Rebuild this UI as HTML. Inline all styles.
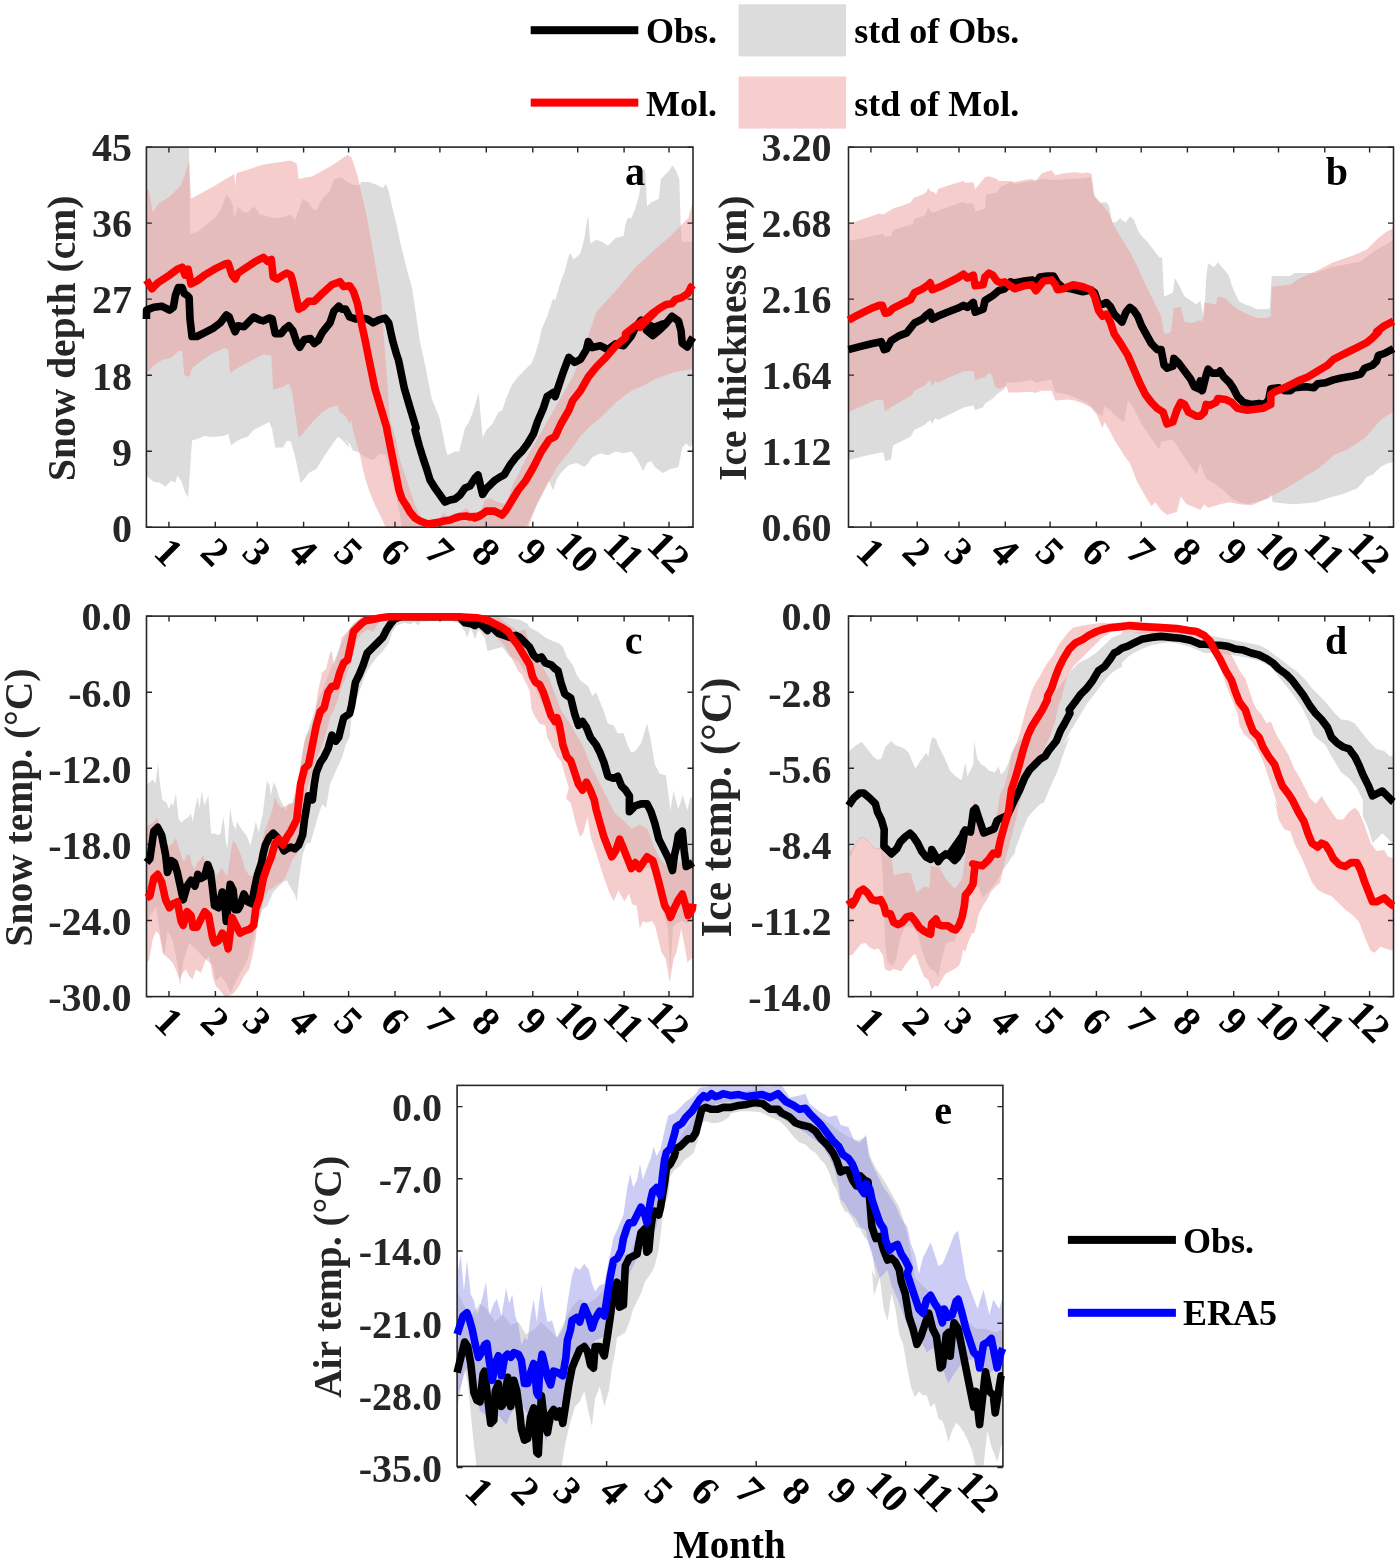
<!DOCTYPE html><html><head><meta charset="utf-8"><style>html,body{margin:0;padding:0;background:#fff;width:1400px;height:1564px;overflow:hidden}svg{display:block;will-change:transform}.t{font-family:"Liberation Serif",serif;font-weight:bold;font-size:40px;fill:#262626}.lg{font-family:"Liberation Serif",serif;font-weight:bold;font-size:36px;fill:#000}.pl{font-family:"Liberation Serif",serif;font-weight:bold;font-size:40px;fill:#000}</style></head><body>
<svg width="1400" height="1564" viewBox="0 0 1400 1564">
<rect x="530.7" y="26.2" width="107.6" height="8" fill="#000"/>
<rect x="530.7" y="98.6" width="107.6" height="8" fill="#ff0000"/>
<rect x="738.6" y="4.3" width="107.5" height="52.1" fill="#dcdcdc"/>
<rect x="738.6" y="76.5" width="107.5" height="52.1" fill="#f7cdcd"/>
<text x="646" y="43.1" class="lg">Obs.</text>
<text x="646" y="116.3" class="lg">Mol.</text>
<text x="854.2" y="43.1" class="lg">std of Obs.</text>
<text x="854.2" y="116.3" class="lg">std of Mol.</text>
<defs><clipPath id="clipa"><rect x="146.4" y="147.1" width="546.6" height="380.1"/></clipPath><clipPath id="clipb"><rect x="848.5" y="147.1" width="545.0" height="380.0"/></clipPath><clipPath id="clipc"><rect x="146.5" y="616.1" width="546.5" height="380.5"/></clipPath><clipPath id="clipd"><rect x="848.5" y="616.1" width="545.0" height="380.5"/></clipPath><clipPath id="clipe"><rect x="457.1" y="1085.4" width="545.8" height="381.0"/></clipPath><clipPath id="lclipa"><rect x="145.9" y="135.1" width="547.6" height="404.1"/></clipPath><clipPath id="lclipb"><rect x="848.0" y="135.1" width="546.0" height="404.0"/></clipPath><clipPath id="lclipc"><rect x="146.0" y="604.1" width="547.5" height="404.5"/></clipPath><clipPath id="lclipd"><rect x="848.0" y="604.1" width="546.0" height="404.5"/></clipPath><clipPath id="lclipe"><rect x="456.6" y="1073.4" width="546.8" height="405.0"/></clipPath></defs>
<polygon points="146,140 189,140 190,234 196.9,232 204.7,226.1 214.5,218.3 220.4,210.5 226.3,194.8 230.2,198.7 233.1,206.5 234.1,218.3 238,206.5 243.9,212.4 247.8,212.4 253.7,206.5 257.6,210.5 259.5,214.4 267.4,216.3 273.2,218.3 283,217.3 290.8,214.4 294.8,220.3 300.6,204.6 302.6,198.7 308.5,202.6 312.4,208.5 316.3,210.5 322.2,198.7 330,190.9 333.9,179.1 341.7,177.2 345.6,181.1 349.6,183.1 353.5,185 359.3,185 361.3,182.1 369.1,182.1 377,185 382.8,188 385.8,184 388.7,190.9 392.6,208.5 396.5,224.2 400.5,243.7 406.3,267.2 412.2,288.8 420,341.7 425.9,369.1 431.7,398.5 439.6,418.1 445.4,447.4 447.4,455.3 455.2,451.4 459.1,451.4 465,427.9 468.9,422 472.8,412.2 478.7,392.6 482.6,437.7 486.5,429.8 492.4,424 498.3,412.2 502.2,410.3 506.1,398.5 512,384.8 517.9,377 525.7,369.1 531.6,363.3 535.5,353.5 539.4,339.8 541.4,330 547.2,316.2 553.1,298.5 555.1,300.5 560.9,280.9 564.8,271.1 568.8,255.5 570.7,253.5 573.7,259.4 580.5,253.5 584.4,237.9 587.4,218.3 588.3,216.3 590.3,243.7 596.2,239.8 602,241.8 607.9,245.7 615.7,237.9 623.6,235.9 625.5,224.2 627.5,218.3 631.4,218.3 635.3,208.5 639.2,194.8 643.1,169.4 645.1,169.4 647.1,206.5 651,202.6 658.8,198.7 660.8,179.1 662.7,177.2 668.6,171.3 672.5,165.4 676.4,171.3 679.3,179.1 680.7,224.2 681.7,241.8 694,241.8 694,441.6 690.1,447.4 686.2,443.5 682.3,447.4 678.4,467 670.5,469 662.7,472.9 654.9,467 651,461.1 647.1,463.1 643.1,470.9 637.3,459.2 631.4,451.4 623.6,453.3 615.7,451.4 607.9,455.3 600.1,453.3 592.2,457.2 588.3,463.1 584.4,467 576.6,463.1 568.8,465.1 560.9,472.9 557,478.8 553.1,490.5 549.2,480.7 547.2,484.6 541.4,496.4 533.5,512 525.7,527.7 402,528 400,515 397,500 386,455 380,454 373,460 365,457 358,452 354,451 350,448 347,441 344,441 340,438 353.5,451.4 349.6,443.5 341.7,439.6 337.8,436.7 330,447.4 322.2,459.2 316.3,469 308.5,472.9 304.5,478.8 300.6,482.7 294.8,455.3 290.8,441.6 286.9,440.6 283,447.4 275.2,447.4 272.2,429.8 269.3,422 261.5,425.9 253.7,429.8 247.8,436.7 241.9,438.6 236,441.6 231.1,445.5 228.2,433.7 224.3,435.7 216.5,436.7 208.6,436.7 204.7,435.7 198.8,438.6 192,440.6 190,470.9 188.1,497.4 185.1,492.5 181.2,480.7 177.3,475.8 175.4,482.7 171.4,480.7 165.6,486.6 159.7,482.7 153.8,481.7 149.9,478.8 146,474.8" fill="#dcdcdc" clip-path="url(#clipa)"/>
<polygon points="146,188.9 148.9,189.9 152.9,212.4 157.7,204.6 169.5,196.8 181.2,185 189.1,161.5 191,198.7 212.5,187 232.1,175.2 234.5,174.3 235.1,187 236.4,173.3 263.4,164.5 290.8,160.6 296.7,163.5 298.7,179.1 312.4,176.2 331.9,165.4 347.6,154.7 351.5,157.6 357.4,175.2 367.2,218.3 380.9,296.6 390,420 396,440 400,460 405,475 410,490 415,505 420,515 423,520 430,520 440,518 444,513 448,518 460,513 466,508 470,512 480,513 484.6,500.3 490.5,498.3 498.3,502.2 506.1,504.2 512,486.6 517.9,474.8 525.7,459.2 533.5,445.5 541.4,431.8 549.2,418.1 557,404.4 564.8,390.7 572.7,377 580.5,357.4 586.4,341.7 590.3,330 596.2,312.2 615.7,290.7 635.3,267.2 654.9,249.6 670.5,235.9 680.3,226.1 688.2,218.3 692.1,204.6 694,196.8 694,369.1 686.2,370.1 674.5,372.1 666.6,375 654.9,378.9 645.1,384.8 631.4,390.7 623.6,396.5 615.7,402.4 607.9,410.3 600.1,418.1 590.3,425.9 580.5,435.7 572.7,447.4 564.8,457.2 557,467 547.2,484.6 537.4,502.2 529.6,523.8 527.7,531.6 386,528 380,515 374,503 369,490 365,478 362,465 360,455 357,445 353,430 351,420 349.6,424 345.6,416.1 339.8,412.2 337.8,405.4 330,407.3 322.2,412.2 312.4,422 302.6,433.7 298.7,437.7 291.8,390.7 288.9,383.8 283,386.8 273.2,389.7 271.3,355.4 263.4,354.5 247.8,362.3 236,369.1 230.2,373.1 228.2,349.6 224.3,348 212.5,353.5 200.8,361.3 192,368.2 189.1,377 184.2,375 182.2,351.5 179.3,350.6 171.4,357.4 161.7,360.3 153.8,365.2 148.9,371.1 146,372.1" fill="#ee9c9c" fill-opacity="0.51" clip-path="url(#clipa)"/>
<polygon points="848,240.8 859.7,238.8 871.5,235.9 883.2,234 885.2,236.9 891.1,235.9 893,230 902.8,227.1 912.6,224.2 914.5,219.3 924.3,215.4 926.3,212.4 928.3,206.5 930.2,211.4 934.1,212.4 938,210.5 949.8,206.5 963.5,201.7 965.4,203.6 973.3,203.6 975.2,211.4 985,208.5 986,194.8 996.8,192.8 1000.7,187 1010.5,182.1 1014.4,184 1032,181.1 1041.8,179.1 1055.5,180.1 1082.9,178.2 1090.7,177.2 1093.6,194.8 1100.5,202.6 1106.4,202.2 1109.3,206.5 1112.2,222.2 1116.2,222.2 1120.1,218.3 1122,220.3 1125.9,222.2 1129.8,216.3 1133.7,219.3 1137.7,230 1141.6,235.9 1147.4,241.8 1153.3,249.6 1159.2,257.4 1162.1,257.4 1164.1,296.6 1169,294.6 1172.9,292.7 1174.8,278 1178.8,284.8 1184.6,296.6 1190.5,300.5 1196.4,304.4 1200.3,300.5 1203.2,316.2 1204.2,316.2 1206.2,277 1208.1,263.3 1214,267.2 1217.9,262.3 1223.8,269.2 1228.7,275.1 1231.6,284.8 1235.5,294.6 1239.4,301.5 1245.3,304.4 1251.2,306.4 1257.1,309.3 1266.8,309.3 1269.8,308.3 1271.7,276 1278.6,276 1290.3,276 1294.2,273.1 1315.8,273.1 1331.4,267.2 1360.8,261.4 1368.6,255.5 1376.5,249.6 1384.3,245.7 1390.2,241.8 1396,238.8 1396,462.1 1388.2,463.1 1380.4,467 1376.5,470.9 1372.5,474.8 1366.7,476.8 1362.8,482.7 1356.9,488.5 1341.2,494.4 1327.5,498.3 1315.8,502.2 1306,503.2 1292.3,504.2 1282.5,503.2 1272.7,502.2 1270.8,492.5 1268.8,498.3 1262.9,500.3 1255.1,502.2 1247.3,504.2 1239.4,502.2 1231.6,498.3 1223.8,490.5 1216,484.6 1206.2,478.8 1200.3,463.1 1196.4,474.8 1188.5,463.1 1180.7,451.4 1172.9,439.6 1161.1,441.6 1159.2,449.4 1149.4,435.7 1141.6,424 1133.7,408.3 1127.9,400.5 1124,422 1118.1,418.1 1110.3,410.3 1104.4,406.3 1102.5,416.1 1098.5,414.2 1092.7,408.3 1086.8,402.4 1075.1,397.5 1067.2,394.6 1055.5,392.6 1051.6,379.9 1041.8,380.9 1035.9,382.8 1032,379.9 1018.3,381.9 1006.5,382.8 1004.6,388.7 996.8,394.6 992.8,398.5 985,403.4 983.1,407.3 975.2,410.3 973.3,405.4 964.5,407.3 949.8,414.2 938,420 935.1,418.1 932.2,424 930.2,420 924.3,424.9 914.5,429.8 910.6,436.7 902.8,440.6 893,445.5 891.1,459.2 885.2,461.1 883.2,452.3 877.4,453.3 867.6,455.3 859.7,457.2 848,460.2" fill="#dcdcdc" clip-path="url(#clipb)"/>
<polygon points="848,224.2 859.7,220.3 871.5,216.3 879.3,213.4 883.2,214.4 885.2,213.4 893,208.5 902.8,205.6 910.6,202.6 913.6,197.7 922.4,194.8 926.3,191.9 928.3,188 930.2,190.9 934.1,191.9 936.1,194.8 938,188.9 949.8,185 963.5,181.1 965.4,183.1 973.3,182.1 975.2,188.9 985,177.2 988.9,176.2 996.8,179.1 998.7,181.1 1010.5,181.1 1014.4,182.1 1024.2,180.1 1032,179.1 1035.9,181.1 1041.8,173.3 1051.6,170.3 1055.5,175.2 1063.3,173.3 1075.1,172.3 1082.9,173.3 1086.8,172.3 1091.7,174.3 1094.6,196.8 1098.5,201.7 1102.5,204.6 1108.3,212.4 1114.2,226.1 1125.9,245.7 1129.8,251.6 1137.7,267.2 1145.5,284.8 1153.3,300.5 1161.1,316.2 1164.1,333.8 1167,333.8 1170.9,331.8 1173.9,308.3 1180.7,306.4 1184.6,322 1192.5,323 1200.3,320.1 1202.3,323 1204.2,302.5 1216,304.4 1217.9,296.6 1225.7,298.5 1231.6,304.4 1239.4,310.3 1247.3,314.2 1257.1,318.1 1266.8,318.1 1270.8,316.2 1271.7,286.8 1290.3,284.8 1298.2,279 1317.7,270.2 1333.4,262.3 1353,255.5 1366.7,249.6 1372.5,243.7 1378.4,237.9 1386.2,232 1396,227.1 1396,411.2 1393.1,412.2 1386.2,416.1 1378.4,422 1372.5,429.8 1364.7,437.7 1356.9,443.5 1347.1,449.4 1333.4,455.3 1329.5,459.2 1317.7,469 1307.9,474.8 1292.3,484.6 1278.6,492.5 1270.8,496.4 1262.9,500.3 1259,502.2 1251.2,505.2 1239.4,504.2 1229.7,502.2 1219.9,504.2 1208.1,508.1 1204.2,504.2 1200.3,510.1 1196.4,508.1 1186.6,504.2 1180.7,496.4 1176.8,512 1172.9,513 1167,515 1161.1,510.1 1155.3,502.2 1151.4,506.2 1145.5,496.4 1137.7,482.7 1129.8,463.1 1124,455.3 1114.2,439.6 1108.3,427.9 1104.4,422 1102.5,427.9 1096.6,414.2 1090.7,407.3 1082.9,403.4 1075.1,400.5 1067.2,399.5 1055.5,400.5 1051.6,390.7 1041.8,390.7 1034.9,393 1032,391.7 1016.3,392.6 1008.5,392.6 1006.5,386.8 1004.6,386.8 998.7,388.7 994.8,386.8 991.9,375 988.9,373.1 985,377 975.2,379.9 973.3,371.1 964.5,371.1 949.8,377 938,382.8 935.1,380.9 932.2,386.8 930.2,379.9 928.3,381.9 924.3,385.8 914.5,390.7 912.6,394.6 902.8,400.5 891.1,407.3 885.2,411.2 883.2,400.5 877.4,399.5 867.6,403.4 859.7,407.3 848,412.2" fill="#ee9c9c" fill-opacity="0.51" clip-path="url(#clipb)"/>
<polygon points="146,784.8 150.1,782.1 152.8,779.4 155.5,783.4 158.2,763.1 159.6,780.7 162.3,799.7 166.4,802.4 169.1,809.2 171.1,802.4 173.1,806.5 175.9,792.9 178.6,818.7 181.3,822.8 185.4,818.7 188.1,817.4 190.8,813.3 192.8,821.4 194.9,809.2 197.6,797 199.6,807.9 201.6,791.6 204.4,805.1 208.4,795.6 211.1,833.6 213.9,833.6 217.9,835 220.6,833.6 223.4,816 226.1,843.1 227.4,848.6 230.1,807.9 232.9,824.1 235.6,829.6 236.9,821.4 241,828.2 243.7,832.3 246.4,835 250.5,845.9 253.2,833.6 255.9,821.4 258.6,832.3 262.7,814.6 266.8,780.7 269.5,784.8 270.9,795.6 273.6,782.1 276.3,787.5 279,797 281.7,802.4 285.8,810.6 288.5,803.8 292.6,802.4 295.3,794.3 298,782.1 302.1,753.6 304.8,740 312.4,717.6 318.2,700 324.1,686.3 330,670.6 335.9,656.9 341.7,643.2 347.6,631.5 353.5,623.7 361.3,618.8 371.1,613.9 494.4,613.9 508.1,617.8 519.8,619.7 527.7,623.7 529.6,627.6 537.4,631.5 545.3,637.4 553.1,641.3 559,643.2 562.9,647.1 566.8,656.9 572.7,664.8 576.6,674.5 580.5,680.4 588.3,686.3 592.2,696.1 596.2,692.2 600.1,702 604,711.7 607.9,723.5 613.8,725.4 617.7,733.3 623.6,733.3 627.5,745 631.4,752.8 635.3,750.9 641.2,743.1 647.1,723.5 651,741.1 654.9,764.6 659.7,773.8 665.9,775.3 670.5,810.6 673.5,790.7 678.2,809.1 682.8,795.3 687.4,810.6 690.4,796.8 695,801.4 694.6,920.7 692.1,920.7 687,923.2 681.8,920.7 676.7,923.2 672.9,927.1 670.3,971.8 667.8,927.1 663.9,914.3 660.1,901.5 656.3,882.3 653.7,869.5 648.6,867 643.5,869.5 638.4,863.1 633.2,859.3 628.1,854.2 623,846.5 617.9,840.1 612.8,846.5 607.7,836.3 602.6,818.4 600,812 588.3,793.9 580.5,780.2 572.7,768.5 564.8,752.8 557,735.2 549.2,719.6 541.4,702 533.5,684.3 525.7,672.6 517.9,660.8 510,656.9 502.2,647.1 487.5,651.1 484.6,637.4 478.7,629.5 474.8,639.3 470.9,627.6 467,637.4 465,631.5 459.1,623.7 449.4,619.7 420,621.7 420,622.7 418.1,625.6 414.2,621.7 410.2,624.6 404.4,622.7 396.5,625.6 392.6,631.5 388.7,643.2 382.8,651.1 377,656.9 371.1,664.8 365.2,674.5 361.3,686.3 357.4,696.1 353.5,705.9 351.5,717.6 349.6,737.2 345.6,745 341.7,758.7 335.9,770.5 330,784.2 326.1,808 322.2,803.9 318.2,815.7 314.3,829.4 310.4,843.1 306.5,843.1 302.6,854.8 300.6,868.5 298.7,882.2 296.7,901.8 294.8,894 290.8,888.1 286.9,880.3 283,882.2 279.1,886.1 273.2,892 267.4,905.7 262.4,909.5 257.4,922.8 252.4,942.8 247.4,959.4 242.4,969.4 235.8,981 230.8,992.7 225.8,982.7 220.8,976 215.8,981 212.5,964.4 207.5,961.1 202.5,956.1 195.9,949.4 189.2,942.8 183.4,961.1 180.1,986 177.6,964.4 172.6,939.5 167.6,931.2 164.3,956.1 161,939.5 156,906.2 151,914.5 146,922.8" fill="#dcdcdc" clip-path="url(#clipc)"/>
<polygon points="146,826.9 150.1,824.1 154.1,821.4 156.9,817.4 159.6,824.1 162.3,835 166.4,843.1 169.1,845.9 173.1,843.1 175.9,837.7 178.6,847.2 181.3,855.4 184,862.1 186.7,855.4 189.4,854 192.1,864.9 194.9,868.9 197.6,862.1 200.3,859.4 203,855.4 205.7,862.1 208.4,868.9 211.1,871.7 216.6,875.7 222,867.6 224.7,873 227.4,875.7 230.1,856.7 232.9,840.4 235.6,843.1 241,855.4 245.1,868.9 249.1,875.7 254.6,875.7 258.6,862.1 264.1,832.3 268.1,821.4 272.2,810.6 274.9,797 277.7,803.8 281.7,807.9 287.2,805.1 292.6,803.8 295.3,790.2 299.4,773.9 302.1,756.3 304.8,740 306.5,735.2 310.4,729.4 314.3,717.6 318.2,690.2 322.2,672.6 326.1,668.7 330,653 331.9,651.1 333.9,666.7 337.8,655 341.7,637.4 347.6,631.5 353.5,623.7 359.3,618.8 365.2,613.9 494.4,613.9 502.2,619.7 510,625.6 517.9,631.5 525.7,629.5 529.6,645.2 533.5,656.9 541.4,664.8 549.2,678.5 555.1,694.1 560.9,709.8 568.8,721.5 576.6,735.2 582.5,745 586.4,754.8 590.3,764.6 596.2,776.3 600.1,784.2 615.2,813.7 624.4,821.4 632.1,829.1 639.8,824.4 647.5,829.1 653.6,845.9 659.7,858.2 667.4,867.4 675.1,864.3 682.8,861.3 690.4,858.2 695,855.1 695,956.4 690.4,959.5 687.4,962.5 684.3,944.1 681.2,928.8 676.6,951.8 673.5,959.5 669.7,982.5 665.9,959.5 661.3,951.8 655.1,925.7 652.1,921.1 645.9,922.7 642.9,921.1 639.8,928.8 636.7,905.8 632.1,904.2 629.1,893.5 624.4,901.2 618.3,890.4 613.7,901.2 609.1,892 603,875.1 596.8,855.1 590.7,836.7 587.6,816.8 583,833.7 579.9,836.7 575.3,821.4 570.7,803 566.1,798.4 568.8,788.1 564.8,774.4 560.9,760.7 557,756.8 553.1,748.9 547.2,737.2 545.3,725.4 539.4,723.5 535.5,717.6 531.6,709.8 529.6,690.2 525.7,682.4 521.8,674.5 517.9,670.6 514,662.8 510,655 504.2,645.2 498.3,639.3 494.4,633.4 488.5,627.6 478.7,623.7 468.9,621.7 459.1,619.7 439.6,618.8 420,618.8 380.9,619.7 377,625.6 373.1,631.5 367.2,629.5 361.3,633.4 357.4,639.3 353.5,653 349.6,664.8 345.6,678.5 341.7,686.3 337.8,700 333.9,709.8 330,717.6 326.1,733.3 322.2,745 318.2,754.8 314.3,764.6 308.5,784.2 302.6,808 304.5,809.8 302.6,819.6 300.6,839.1 296.7,854.8 292.8,858.7 288.9,868.5 285,878.3 281.1,882.2 277.1,884.2 273.2,888.1 269,889.6 264,899.6 260.7,912.9 257.4,922.8 255.7,939.5 252.4,956.1 249.1,969.4 244.1,976 239.1,986 234.1,992.7 229.1,996 224.1,996 219.1,989.3 215.8,986 212.5,976 209.2,956.1 205.8,959.4 200.9,972.7 195.9,969.4 192.5,979.4 189.2,976 185.9,969.4 182.6,972.7 179.2,979.4 175.9,969.4 172.6,962.7 167.6,957.8 162.6,952.8 159.3,934.5 156,931.2 152.6,939.5 149.3,959.4 146,964.4" fill="#ee9c9c" fill-opacity="0.51" clip-path="url(#clipc)"/>
<polygon points="848,752.8 853.9,747 859.7,743.1 861.7,742.1 867.6,748.9 873.4,756.8 877.4,759.7 881.3,758.7 885.2,747 891.1,741.1 895,745 900.8,747 904.8,748.9 908.7,752.8 912.6,762.6 915.5,768.5 920.4,760.7 926.3,752.8 928.3,756.8 930.2,745 932.2,737.2 936.1,739.1 938,745 942,752.8 945.9,760.7 949.8,770.5 955.7,776.3 961.5,780.2 965.4,762.6 967.4,776.3 973.3,764.6 974.2,741.1 977.2,758.7 981.1,764.6 985,766.5 988.9,770.5 994.8,772.4 998.7,766.5 1000.7,774.4 1004.6,772.4 1000.1,773.7 1004.2,771.6 1008.3,763.4 1011.4,753.2 1015.5,745 1021.6,738.9 1027.7,733.8 1033.9,720.5 1040,710.2 1059.4,686.3 1065.3,678.5 1071.1,670.6 1079,662.8 1086.8,658.9 1094.6,654 1102.5,647.1 1112.2,637.4 1122,633.4 1131.8,633.4 1141.6,631.5 1161.1,631.5 1180.7,632.5 1200.3,632.5 1210.1,635.4 1219.9,637.4 1229.7,639.3 1239.4,641.3 1249.2,643.2 1259,645.2 1266.8,649.1 1274.7,655 1282.5,660.8 1290.3,666.7 1298.2,672.6 1306,680.4 1311.9,688.3 1317.7,694.1 1325.6,702 1333.4,711.7 1341.2,719.6 1349.1,720.5 1354.9,723.5 1360.8,731.3 1368.6,741.1 1376.5,748.9 1384.3,750.9 1390.2,756.8 1396,752.8 1396,845 1393.1,845 1388.2,839.1 1382.3,833.3 1378.4,837.2 1372.5,843.1 1368.6,829.4 1362.8,815.7 1362.8,799.8 1356.9,788.1 1349.1,778.3 1341.2,772.4 1335.3,762.6 1329.5,752.8 1325.6,745 1317.7,739.1 1313.8,735.2 1307.9,719.6 1302.1,707.8 1294.2,696.1 1286.4,686.3 1278.6,676.5 1270.8,666.7 1259,660.8 1243.4,656.9 1231.6,655 1216,653 1204.2,653 1190.5,647.1 1180.7,644.2 1170.9,642.3 1161.1,643.2 1151.4,645.2 1141.6,649.1 1133.7,653 1127.9,656.9 1122,662.8 1122,666.7 1118.1,668.7 1112.2,672.6 1106.4,678.5 1100.5,686.3 1094.6,694.1 1086.8,703.9 1080.9,713.7 1075.1,723.5 1069.2,733.3 1063.3,745 1070,735.8 1062.5,756.3 1057.4,771.6 1050.3,787 1044.1,802.3 1040,804.3 1031.8,812.5 1027.7,817.6 1023.7,827.9 1019.6,838.1 1015.5,848.3 1012.4,860 1026.1,819.6 1022.2,829.4 1018.3,843.1 1014.4,852.8 1008.5,862.6 1002.6,870.5 998.7,878.3 994.8,884.2 994.7,884.3 989.3,890.9 982.8,897.4 978.4,886.5 974.1,884.3 969.7,889.8 965.4,900.7 961,917 956.7,933.3 954.5,942 950.2,940.9 945.8,944.1 941.5,960.4 938.2,976.7 935,971.3 930.6,969.1 926.3,962.6 921.9,949.6 917.6,934.3 913.2,927.8 908.9,925.7 904.5,927.8 900.2,938.7 895.8,960.4 891.5,965.9 887.1,960.4 885,938.7 882.8,873.5 880.6,848.5 876.3,849.6 871.9,846.3 867.6,840.9 863.2,837.6 858.9,839.8 854.5,847.4 851.3,855 848,857.2" fill="#dcdcdc" clip-path="url(#clipd)"/>
<polygon points="848,848.5 851.3,850.7 854.5,845.2 858.9,838.7 863.2,836.5 867.6,839.8 871.9,845.2 876.3,848.5 880.6,847.4 885,855 889.3,857.2 891.5,858.3 893.7,875.7 900.2,873.5 906.7,872.4 911,873.5 913.2,882.2 916.5,893 924.1,886.5 929.5,887.6 930.6,865.9 939.3,867 945.8,878.9 954.5,888.7 962.1,878.9 964.3,862.6 967.6,840.9 969.7,830 974.6,797.2 976.6,822.8 980.7,833 993,830.9 997.1,812.5 1000.1,794.1 1004.2,787 1008.3,771.6 1011.4,755.2 1016.5,743 1019.6,733.8 1022.6,722.5 1025.7,710.2 1028.8,700 1032,690.2 1035.9,682.4 1039.8,676.5 1043.7,668.7 1047.6,662.8 1053.5,655 1057.4,647.1 1061.3,641.3 1067.2,633.4 1073.1,627.6 1082.9,625.6 1094.6,623.7 1102.5,622.7 1112.2,623.7 1122,621.7 1141.6,621.7 1161.1,623.7 1180.7,625.6 1196.4,627.6 1204.2,631.5 1212,639.3 1219.9,647.1 1227.7,649.1 1233.6,658.9 1239.4,670.6 1245.3,678.5 1249.2,690.2 1253.1,702 1257.1,709.8 1261,713.7 1266.8,723.5 1270.8,721.5 1276.6,735.2 1282.5,745 1288.4,754.8 1294.2,768.5 1300.1,778.3 1306,790 1309.9,797.9 1315.8,803.7 1321.6,795.9 1327.5,805.7 1331.4,811.7 1337.3,819.6 1343.2,819.6 1349.1,811.7 1354.9,807.8 1358.8,811.7 1364.7,825.4 1370.6,843.1 1376.5,850.9 1384.3,849.9 1388.2,856.8 1396,858.7 1396,950.7 1393.1,950.7 1386.2,948.8 1380.4,946.8 1374.5,952.7 1370.6,950.7 1364.7,937 1358.8,921.4 1353,915.5 1345.1,909.6 1337.3,901.8 1331.4,895.9 1325.6,894 1317.7,890 1311.9,882.2 1307.9,872.4 1302.1,858.7 1294.2,843.1 1290.3,831.3 1284.5,829.4 1278.6,819.6 1274.7,800 1278.6,808 1274.7,795.9 1270.8,784.2 1266.8,772.4 1262.9,760.7 1257.1,748.9 1251.2,741.1 1243.4,733.3 1239.4,725.4 1237.5,713.7 1233.6,703.9 1229.7,694.1 1225.7,684.3 1221.8,670.6 1216,658.9 1210.1,649.1 1204.2,639.3 1196.4,635.4 1180.7,633.4 1161.1,632.5 1141.6,633.4 1122,633.4 1122,629.5 1112.2,631.5 1102.5,637.4 1094.6,645.2 1088.8,651.1 1082.9,656.9 1079,660.8 1073.1,666.7 1067.2,676.5 1063.3,690.2 1059.4,705.9 1059.5,700 1055.4,720.5 1050.3,735.8 1042.1,753.2 1033.9,766.5 1027.7,777.7 1023.7,790 1019.6,802.3 1016.5,817.6 1012.4,833 1008.3,848.3 1005.2,860 1000,883.3 995.8,886.5 991.5,890.9 987.1,899.6 982.8,906.1 978.4,914.8 976.3,925.7 974.1,933.3 971.9,933.3 967.6,944.1 965.4,951.7 963.2,949.6 961,960.4 958.9,965.9 954.5,969.1 950.2,971.3 945.8,973.5 941.5,980 938.2,986.5 935,985.4 931.7,989.8 928.4,980 924.1,976.7 919.7,965.9 915.4,953.9 913.2,955 908.9,960.4 904.5,965.9 901.3,971.3 898,970.2 893.7,969.1 889.3,971.3 885,969.1 882.8,955 878.4,948.5 874.1,949.6 869.7,947.4 865.4,943 861,944.1 856.7,949.6 852.3,955 848,955" fill="#ee9c9c" fill-opacity="0.51" clip-path="url(#clipd)"/>
<polygon points="457,1291.4 466.2,1309.8 472.3,1314.4 480,1303.6 487.7,1309.8 495.3,1322 503,1314.4 510.7,1325.1 518.4,1322 526,1334.3 533.7,1329.7 541.4,1322 549,1329.7 556.7,1337.4 564.4,1322 572,1306.7 579.7,1299 587.4,1303.6 595.1,1299 602.7,1291.4 610.4,1268.3 617,1253 629.2,1254.2 637.1,1238.5 644.9,1222.8 652.7,1203.3 660.6,1187.6 664.5,1170 672.3,1152.4 680.1,1136.7 688,1125 695.8,1111.3 701.7,1101.5 711.5,1097.6 731,1095.6 750.6,1089.7 770.1,1091.7 781.9,1097.6 789.7,1107.4 799.5,1111.3 809.3,1113.2 819.1,1117.1 828.9,1123 838.7,1130.8 848.4,1136.7 858.2,1140.6 866.1,1136.7 870,1156.3 875.8,1168 883.7,1179.8 891.5,1193.5 899.3,1207.2 903.2,1218.9 907.2,1234.6 911.1,1254.2 915,1278 926.7,1289.6 936.5,1299.4 946.3,1309.1 956.1,1309.1 965.9,1318.9 975.7,1328.7 985.5,1328.7 995.2,1332.6 1005,1328.7 1005,1436.4 1001.1,1446.2 997.2,1461.8 991.3,1446.2 987.4,1430.5 983.5,1465.7 975.7,1465.7 971.8,1450.1 967.8,1440.3 963.9,1432.5 960,1426.6 956.1,1422.7 952.2,1430.5 948.3,1442.2 946.3,1432.5 942.4,1420.7 938.5,1418.8 934.6,1403.1 930.6,1407 926.7,1395.3 922.8,1395.3 918.9,1391.4 915,1397.2 911.1,1387.4 907.2,1367.9 903.2,1344.4 899.3,1334.6 895.4,1309.1 891.5,1293.5 887.6,1320.9 883.7,1309.1 879.8,1277.8 873.9,1295.4 871.9,1270 875.8,1278 873.9,1265.9 871.9,1250.2 868,1240.5 864.1,1236.5 860.2,1228.7 856.3,1226.8 852.4,1218.9 848.4,1213.1 844.5,1211.1 840.6,1203.3 836.7,1189.6 832.8,1183.7 828.9,1172 825,1164.1 821,1160.2 815.2,1152.4 811.3,1150.4 805.4,1144.5 799.5,1142.6 793.6,1136.7 785.8,1126.9 779.9,1121.1 770.1,1117.1 760.4,1112.3 750.6,1111.3 740.8,1111.3 731,1113.2 731,1113.2 729.1,1117.1 723.2,1121.1 717.3,1123 711.5,1123 705.6,1121.1 701.7,1123 697.8,1140.6 693.8,1152.4 689.9,1156.3 684.1,1160.2 680.1,1166.1 674.3,1170 670.3,1175.9 668.4,1195.4 664.5,1205.2 662.5,1218.9 660.6,1234.6 658.6,1250.2 654.7,1265.9 650.8,1273.7 644.9,1281.7 641,1293.5 633.2,1309.1 629.2,1322.8 625.3,1332.6 617,1337.4 615,1352.7 611.9,1368.1 608.9,1391.1 604.3,1406.4 599.7,1386.5 595.1,1398.7 592,1426.3 588.9,1414.1 584.3,1391.1 579.7,1401.8 575.1,1406.4 570.5,1421.7 567.4,1434 564.4,1447.8 561.3,1469.3 476.9,1469.3 473.9,1444.8 470.8,1414.1 467.7,1383.4 464.7,1368.1 461.6,1383.4 459.3,1398.7 457,1406.4" fill="#dcdcdc" clip-path="url(#clipe)"/>
<polygon points="457,1276 460.8,1254.5 463.9,1291.4 467,1260.7 470.8,1294.4 473.9,1300.6 476.9,1314.4 480,1306.7 483.1,1294.4 486.1,1282.2 489.2,1315.9 493.8,1303.6 496.9,1299 501.5,1315.9 506.1,1288.3 509.2,1303.6 512.2,1294.4 515.3,1315.9 518.4,1325.1 521.4,1345 524.5,1337.4 527.6,1340.4 530.6,1315.9 533.7,1299 536.8,1322 541.4,1285.2 544.4,1306.7 547.5,1322 552.1,1320.5 556.7,1337.4 559.8,1334.3 564.4,1325.1 567.4,1303.6 572,1276 575.1,1266.8 579.7,1269.9 584.3,1263.7 588.9,1269.9 592,1283.7 595.1,1291.4 599.7,1285.2 604.3,1283.7 607.3,1268.3 610.4,1253 613.5,1237.7 617,1230 623.4,1215 627.3,1187.6 630.2,1173.9 633.2,1187.6 637.1,1179.8 640,1164.1 642.9,1179.8 646.9,1168 650.8,1158.3 653.7,1146.5 656.6,1156.3 660.6,1148.5 664.5,1130.8 668.4,1115.2 674.3,1113.2 680.1,1107.4 686,1101.5 691.9,1097.6 695.8,1093.7 699.7,1087.8 711.5,1085.8 731,1085.8 750.6,1085.8 770.1,1086.8 781.9,1085.8 789.7,1097.6 799.5,1095.6 805.4,1093.7 809.3,1103.4 819.1,1111.3 828.9,1117.1 836.7,1115.2 840.6,1125 848.4,1126.9 854.3,1140.6 860.2,1142.6 866.1,1134.8 868,1152.4 871.9,1164.1 877.8,1175.9 883.7,1187.6 889.5,1195.4 895.4,1205.2 901.3,1218.9 907.2,1226.8 911.1,1244.4 915,1254.2 918.9,1273.7 922.8,1258.1 926.7,1250.2 930.6,1242.4 934.6,1254.2 938.5,1265.9 942.4,1263.9 948.3,1250.2 954.1,1234.6 958.1,1230.7 962,1254.2 965.9,1278 971.8,1293.5 977.6,1309.1 983.5,1289.6 989.4,1315 993.3,1299.4 999.2,1309.1 1005,1289.6 1005,1371.8 1003.1,1373.7 997.2,1367.9 991.3,1371.8 985.5,1373.7 981.5,1367.9 975.7,1358.1 969.8,1360 963.9,1360 958.1,1367.9 954.1,1373.7 948.3,1383.5 942.4,1367.9 938.5,1358.1 932.6,1348.3 926.7,1352.2 922.8,1344.4 916.9,1338.5 911.1,1336.5 907.2,1324.8 899.3,1303.3 891.5,1285.7 887.6,1270 879.8,1278 875.8,1265.9 871.9,1254.2 868,1242.4 866.1,1230.7 860.2,1226.8 856.3,1218.9 850.4,1213.1 844.5,1203.3 840.6,1199.4 838.7,1185.7 834.7,1170 828.9,1156.3 821,1144.5 813.2,1138.7 805.4,1132.8 795.6,1126.9 789.7,1123 779.9,1117.1 770.1,1111.3 760.4,1107.4 750.6,1107.4 731,1107.4 731,1101.5 719.3,1103.4 711.5,1105.4 703.6,1107.4 699.7,1117.1 693.8,1132.8 688,1138.7 682.1,1146.5 676.2,1152.4 672.3,1162.2 668.4,1179.8 664.5,1187.6 660.6,1203.3 656.6,1226.8 650.8,1238.5 644.9,1246.3 639,1254.2 633.2,1265.9 627.3,1278 617,1291.4 613.5,1306.7 608.9,1329.7 602.7,1337.4 595.1,1340.4 590.5,1346.6 584.3,1349.7 578.2,1357.3 573.6,1365 570.5,1375.7 565.9,1383.4 562.8,1398.7 558.2,1414.1 553.6,1423.3 549,1429.4 546,1441.7 542.9,1429.4 538.3,1423.3 533.7,1426.3 527.6,1414.1 523,1406.4 518.4,1403.3 515.3,1406.4 510.7,1414.1 506.1,1424.8 501.5,1418.7 496.9,1414.1 492.3,1429.4 489.2,1426.3 484.6,1414.1 480,1411 476.9,1398.7 472.3,1388 469.3,1375.7 466.2,1368.1 461.6,1383.4 457,1398.7" fill="#9696ea" fill-opacity="0.49" clip-path="url(#clipe)"/>
<path d="M168.9 527.2v-5.5M168.9 147.1v5.5M215.3 527.2v-5.5M215.3 147.1v5.5M257.2 527.2v-5.5M257.2 147.1v5.5M303.6 527.2v-5.5M303.6 147.1v5.5M348.6 527.2v-5.5M348.6 147.1v5.5M395.0 527.2v-5.5M395.0 147.1v5.5M439.9 527.2v-5.5M439.9 147.1v5.5M486.3 527.2v-5.5M486.3 147.1v5.5M532.8 527.2v-5.5M532.8 147.1v5.5M577.7 527.2v-5.5M577.7 147.1v5.5M624.1 527.2v-5.5M624.1 147.1v5.5M669.0 527.2v-5.5M669.0 147.1v5.5M146.4 147.1h5.5M693.0 147.1h-5.5M146.4 223.1h5.5M693.0 223.1h-5.5M146.4 299.1h5.5M693.0 299.1h-5.5M146.4 375.2h5.5M693.0 375.2h-5.5M146.4 451.2h5.5M693.0 451.2h-5.5M146.4 527.2h5.5M693.0 527.2h-5.5" stroke="#262626" stroke-width="1.4" fill="none"/>
<rect x="146.4" y="147.1" width="546.6" height="380.1" fill="none" stroke="#262626" stroke-width="1.6"/>
<text x="132.0" y="161.4" text-anchor="end" class="t">45</text>
<text x="132.0" y="237.4" text-anchor="end" class="t">36</text>
<text x="132.0" y="313.4" text-anchor="end" class="t">27</text>
<text x="132.0" y="389.5" text-anchor="end" class="t">18</text>
<text x="132.0" y="465.5" text-anchor="end" class="t">9</text>
<text x="132.0" y="541.5" text-anchor="end" class="t">0</text>
<text x="168.9" y="551.7" text-anchor="middle" dominant-baseline="central" class="t" style="fill:#000" transform="rotate(45 168.9 551.7)">1</text>
<text x="215.3" y="551.7" text-anchor="middle" dominant-baseline="central" class="t" style="fill:#000" transform="rotate(45 215.3 551.7)">2</text>
<text x="257.2" y="551.7" text-anchor="middle" dominant-baseline="central" class="t" style="fill:#000" transform="rotate(45 257.2 551.7)">3</text>
<text x="303.6" y="551.7" text-anchor="middle" dominant-baseline="central" class="t" style="fill:#000" transform="rotate(45 303.6 551.7)">4</text>
<text x="348.6" y="551.7" text-anchor="middle" dominant-baseline="central" class="t" style="fill:#000" transform="rotate(45 348.6 551.7)">5</text>
<text x="395.0" y="551.7" text-anchor="middle" dominant-baseline="central" class="t" style="fill:#000" transform="rotate(45 395.0 551.7)">6</text>
<text x="439.9" y="551.7" text-anchor="middle" dominant-baseline="central" class="t" style="fill:#000" transform="rotate(45 439.9 551.7)">7</text>
<text x="486.3" y="551.7" text-anchor="middle" dominant-baseline="central" class="t" style="fill:#000" transform="rotate(45 486.3 551.7)">8</text>
<text x="532.8" y="551.7" text-anchor="middle" dominant-baseline="central" class="t" style="fill:#000" transform="rotate(45 532.8 551.7)">9</text>
<text x="577.7" y="551.7" text-anchor="middle" dominant-baseline="central" class="t" style="fill:#000" transform="rotate(45 577.7 551.7)">10</text>
<text x="624.1" y="551.7" text-anchor="middle" dominant-baseline="central" class="t" style="fill:#000" transform="rotate(45 624.1 551.7)">11</text>
<text x="669.0" y="551.7" text-anchor="middle" dominant-baseline="central" class="t" style="fill:#000" transform="rotate(45 669.0 551.7)">12</text>
<text x="74.7" y="338.3" text-anchor="middle" class="t" style="font-size:39.5px" transform="rotate(-90 74.7 338.3)">Snow depth (cm)</text>
<path d="M870.9 527.1v-5.5M870.9 147.1v5.5M917.2 527.1v-5.5M917.2 147.1v5.5M959.0 527.1v-5.5M959.0 147.1v5.5M1005.3 527.1v-5.5M1005.3 147.1v5.5M1050.1 527.1v-5.5M1050.1 147.1v5.5M1096.4 527.1v-5.5M1096.4 147.1v5.5M1141.2 527.1v-5.5M1141.2 147.1v5.5M1187.4 527.1v-5.5M1187.4 147.1v5.5M1233.7 527.1v-5.5M1233.7 147.1v5.5M1278.5 527.1v-5.5M1278.5 147.1v5.5M1324.8 527.1v-5.5M1324.8 147.1v5.5M1369.6 527.1v-5.5M1369.6 147.1v5.5M848.5 147.1h5.5M1393.5 147.1h-5.5M848.5 223.1h5.5M1393.5 223.1h-5.5M848.5 299.1h5.5M1393.5 299.1h-5.5M848.5 375.1h5.5M1393.5 375.1h-5.5M848.5 451.1h5.5M1393.5 451.1h-5.5M848.5 527.1h5.5M1393.5 527.1h-5.5" stroke="#262626" stroke-width="1.4" fill="none"/>
<rect x="848.5" y="147.1" width="545.0" height="380.0" fill="none" stroke="#262626" stroke-width="1.6"/>
<text x="831.5" y="161.4" text-anchor="end" class="t">3.20</text>
<text x="831.5" y="237.4" text-anchor="end" class="t">2.68</text>
<text x="831.5" y="313.4" text-anchor="end" class="t">2.16</text>
<text x="831.5" y="389.4" text-anchor="end" class="t">1.64</text>
<text x="831.5" y="465.4" text-anchor="end" class="t">1.12</text>
<text x="831.5" y="541.4" text-anchor="end" class="t">0.60</text>
<text x="870.9" y="551.6" text-anchor="middle" dominant-baseline="central" class="t" style="fill:#000" transform="rotate(45 870.9 551.6)">1</text>
<text x="917.2" y="551.6" text-anchor="middle" dominant-baseline="central" class="t" style="fill:#000" transform="rotate(45 917.2 551.6)">2</text>
<text x="959.0" y="551.6" text-anchor="middle" dominant-baseline="central" class="t" style="fill:#000" transform="rotate(45 959.0 551.6)">3</text>
<text x="1005.3" y="551.6" text-anchor="middle" dominant-baseline="central" class="t" style="fill:#000" transform="rotate(45 1005.3 551.6)">4</text>
<text x="1050.1" y="551.6" text-anchor="middle" dominant-baseline="central" class="t" style="fill:#000" transform="rotate(45 1050.1 551.6)">5</text>
<text x="1096.4" y="551.6" text-anchor="middle" dominant-baseline="central" class="t" style="fill:#000" transform="rotate(45 1096.4 551.6)">6</text>
<text x="1141.2" y="551.6" text-anchor="middle" dominant-baseline="central" class="t" style="fill:#000" transform="rotate(45 1141.2 551.6)">7</text>
<text x="1187.4" y="551.6" text-anchor="middle" dominant-baseline="central" class="t" style="fill:#000" transform="rotate(45 1187.4 551.6)">8</text>
<text x="1233.7" y="551.6" text-anchor="middle" dominant-baseline="central" class="t" style="fill:#000" transform="rotate(45 1233.7 551.6)">9</text>
<text x="1278.5" y="551.6" text-anchor="middle" dominant-baseline="central" class="t" style="fill:#000" transform="rotate(45 1278.5 551.6)">10</text>
<text x="1324.8" y="551.6" text-anchor="middle" dominant-baseline="central" class="t" style="fill:#000" transform="rotate(45 1324.8 551.6)">11</text>
<text x="1369.6" y="551.6" text-anchor="middle" dominant-baseline="central" class="t" style="fill:#000" transform="rotate(45 1369.6 551.6)">12</text>
<text x="745.9" y="338.2" text-anchor="middle" class="t" style="font-size:39.5px" transform="rotate(-90 745.9 338.2)">Ice thickness (m)</text>
<path d="M169.0 996.6v-5.5M169.0 616.1v5.5M215.4 996.6v-5.5M215.4 616.1v5.5M257.3 996.6v-5.5M257.3 616.1v5.5M303.7 996.6v-5.5M303.7 616.1v5.5M348.6 996.6v-5.5M348.6 616.1v5.5M395.0 996.6v-5.5M395.0 616.1v5.5M440.0 996.6v-5.5M440.0 616.1v5.5M486.4 996.6v-5.5M486.4 616.1v5.5M532.8 996.6v-5.5M532.8 616.1v5.5M577.7 996.6v-5.5M577.7 616.1v5.5M624.1 996.6v-5.5M624.1 616.1v5.5M669.0 996.6v-5.5M669.0 616.1v5.5M146.5 616.1h5.5M693.0 616.1h-5.5M146.5 692.2h5.5M693.0 692.2h-5.5M146.5 768.3h5.5M693.0 768.3h-5.5M146.5 844.4h5.5M693.0 844.4h-5.5M146.5 920.5h5.5M693.0 920.5h-5.5M146.5 996.6h5.5M693.0 996.6h-5.5" stroke="#262626" stroke-width="1.4" fill="none"/>
<rect x="146.5" y="616.1" width="546.5" height="380.5" fill="none" stroke="#262626" stroke-width="1.6"/>
<text x="131.5" y="630.4" text-anchor="end" class="t">0.0</text>
<text x="131.5" y="706.5" text-anchor="end" class="t">-6.0</text>
<text x="131.5" y="782.6" text-anchor="end" class="t">-12.0</text>
<text x="131.5" y="858.7" text-anchor="end" class="t">-18.0</text>
<text x="131.5" y="934.8" text-anchor="end" class="t">-24.0</text>
<text x="131.5" y="1010.9" text-anchor="end" class="t">-30.0</text>
<text x="169.0" y="1021.1" text-anchor="middle" dominant-baseline="central" class="t" style="fill:#000" transform="rotate(45 169.0 1021.1)">1</text>
<text x="215.4" y="1021.1" text-anchor="middle" dominant-baseline="central" class="t" style="fill:#000" transform="rotate(45 215.4 1021.1)">2</text>
<text x="257.3" y="1021.1" text-anchor="middle" dominant-baseline="central" class="t" style="fill:#000" transform="rotate(45 257.3 1021.1)">3</text>
<text x="303.7" y="1021.1" text-anchor="middle" dominant-baseline="central" class="t" style="fill:#000" transform="rotate(45 303.7 1021.1)">4</text>
<text x="348.6" y="1021.1" text-anchor="middle" dominant-baseline="central" class="t" style="fill:#000" transform="rotate(45 348.6 1021.1)">5</text>
<text x="395.0" y="1021.1" text-anchor="middle" dominant-baseline="central" class="t" style="fill:#000" transform="rotate(45 395.0 1021.1)">6</text>
<text x="440.0" y="1021.1" text-anchor="middle" dominant-baseline="central" class="t" style="fill:#000" transform="rotate(45 440.0 1021.1)">7</text>
<text x="486.4" y="1021.1" text-anchor="middle" dominant-baseline="central" class="t" style="fill:#000" transform="rotate(45 486.4 1021.1)">8</text>
<text x="532.8" y="1021.1" text-anchor="middle" dominant-baseline="central" class="t" style="fill:#000" transform="rotate(45 532.8 1021.1)">9</text>
<text x="577.7" y="1021.1" text-anchor="middle" dominant-baseline="central" class="t" style="fill:#000" transform="rotate(45 577.7 1021.1)">10</text>
<text x="624.1" y="1021.1" text-anchor="middle" dominant-baseline="central" class="t" style="fill:#000" transform="rotate(45 624.1 1021.1)">11</text>
<text x="669.0" y="1021.1" text-anchor="middle" dominant-baseline="central" class="t" style="fill:#000" transform="rotate(45 669.0 1021.1)">12</text>
<text x="32.2" y="807.5" text-anchor="middle" class="t" style="font-size:39.5px" transform="rotate(-90 32.2 807.5)">Snow temp. (°C)</text>
<path d="M870.9 996.6v-5.5M870.9 616.1v5.5M917.2 996.6v-5.5M917.2 616.1v5.5M959.0 996.6v-5.5M959.0 616.1v5.5M1005.3 996.6v-5.5M1005.3 616.1v5.5M1050.1 996.6v-5.5M1050.1 616.1v5.5M1096.4 996.6v-5.5M1096.4 616.1v5.5M1141.2 996.6v-5.5M1141.2 616.1v5.5M1187.4 996.6v-5.5M1187.4 616.1v5.5M1233.7 996.6v-5.5M1233.7 616.1v5.5M1278.5 996.6v-5.5M1278.5 616.1v5.5M1324.8 996.6v-5.5M1324.8 616.1v5.5M1369.6 996.6v-5.5M1369.6 616.1v5.5M848.5 616.1h5.5M1393.5 616.1h-5.5M848.5 692.2h5.5M1393.5 692.2h-5.5M848.5 768.3h5.5M1393.5 768.3h-5.5M848.5 844.4h5.5M1393.5 844.4h-5.5M848.5 920.5h5.5M1393.5 920.5h-5.5M848.5 996.6h5.5M1393.5 996.6h-5.5" stroke="#262626" stroke-width="1.4" fill="none"/>
<rect x="848.5" y="616.1" width="545.0" height="380.5" fill="none" stroke="#262626" stroke-width="1.6"/>
<text x="831.5" y="630.4" text-anchor="end" class="t">0.0</text>
<text x="831.5" y="706.5" text-anchor="end" class="t">-2.8</text>
<text x="831.5" y="782.6" text-anchor="end" class="t">-5.6</text>
<text x="831.5" y="858.7" text-anchor="end" class="t">-8.4</text>
<text x="831.5" y="934.8" text-anchor="end" class="t">-11.2</text>
<text x="831.5" y="1010.9" text-anchor="end" class="t">-14.0</text>
<text x="870.9" y="1021.1" text-anchor="middle" dominant-baseline="central" class="t" style="fill:#000" transform="rotate(45 870.9 1021.1)">1</text>
<text x="917.2" y="1021.1" text-anchor="middle" dominant-baseline="central" class="t" style="fill:#000" transform="rotate(45 917.2 1021.1)">2</text>
<text x="959.0" y="1021.1" text-anchor="middle" dominant-baseline="central" class="t" style="fill:#000" transform="rotate(45 959.0 1021.1)">3</text>
<text x="1005.3" y="1021.1" text-anchor="middle" dominant-baseline="central" class="t" style="fill:#000" transform="rotate(45 1005.3 1021.1)">4</text>
<text x="1050.1" y="1021.1" text-anchor="middle" dominant-baseline="central" class="t" style="fill:#000" transform="rotate(45 1050.1 1021.1)">5</text>
<text x="1096.4" y="1021.1" text-anchor="middle" dominant-baseline="central" class="t" style="fill:#000" transform="rotate(45 1096.4 1021.1)">6</text>
<text x="1141.2" y="1021.1" text-anchor="middle" dominant-baseline="central" class="t" style="fill:#000" transform="rotate(45 1141.2 1021.1)">7</text>
<text x="1187.4" y="1021.1" text-anchor="middle" dominant-baseline="central" class="t" style="fill:#000" transform="rotate(45 1187.4 1021.1)">8</text>
<text x="1233.7" y="1021.1" text-anchor="middle" dominant-baseline="central" class="t" style="fill:#000" transform="rotate(45 1233.7 1021.1)">9</text>
<text x="1278.5" y="1021.1" text-anchor="middle" dominant-baseline="central" class="t" style="fill:#000" transform="rotate(45 1278.5 1021.1)">10</text>
<text x="1324.8" y="1021.1" text-anchor="middle" dominant-baseline="central" class="t" style="fill:#000" transform="rotate(45 1324.8 1021.1)">11</text>
<text x="1369.6" y="1021.1" text-anchor="middle" dominant-baseline="central" class="t" style="fill:#000" transform="rotate(45 1369.6 1021.1)">12</text>
<text x="731.4" y="807.5" text-anchor="middle" class="t" style="font-size:43.5px" transform="rotate(-90 731.4 807.5)">Ice temp. (°C)</text>
<path d="M606.6 1466.4v-5.5M606.6 1085.4v5.5M756.2 1466.4v-5.5M756.2 1085.4v5.5M905.7 1466.4v-5.5M905.7 1085.4v5.5M457.1 1106.6h5.5M1002.9 1106.6h-5.5M457.1 1178.8h5.5M1002.9 1178.8h-5.5M457.1 1251.0h5.5M1002.9 1251.0h-5.5M457.1 1323.2h5.5M1002.9 1323.2h-5.5M457.1 1395.4h5.5M1002.9 1395.4h-5.5M457.1 1467.6h5.5M1002.9 1467.6h-5.5" stroke="#262626" stroke-width="1.4" fill="none"/>
<rect x="457.1" y="1085.4" width="545.8" height="381.0" fill="none" stroke="#262626" stroke-width="1.6"/>
<text x="442.0" y="1120.9" text-anchor="end" class="t">0.0</text>
<text x="442.0" y="1193.1" text-anchor="end" class="t">-7.0</text>
<text x="442.0" y="1265.3" text-anchor="end" class="t">-14.0</text>
<text x="442.0" y="1337.5" text-anchor="end" class="t">-21.0</text>
<text x="442.0" y="1409.7" text-anchor="end" class="t">-28.0</text>
<text x="442.0" y="1481.9" text-anchor="end" class="t">-35.0</text>
<text x="479.5" y="1490.9" text-anchor="middle" dominant-baseline="central" class="t" style="fill:#000" transform="rotate(45 479.5 1490.9)">1</text>
<text x="525.9" y="1490.9" text-anchor="middle" dominant-baseline="central" class="t" style="fill:#000" transform="rotate(45 525.9 1490.9)">2</text>
<text x="567.8" y="1490.9" text-anchor="middle" dominant-baseline="central" class="t" style="fill:#000" transform="rotate(45 567.8 1490.9)">3</text>
<text x="614.1" y="1490.9" text-anchor="middle" dominant-baseline="central" class="t" style="fill:#000" transform="rotate(45 614.1 1490.9)">4</text>
<text x="659.0" y="1490.9" text-anchor="middle" dominant-baseline="central" class="t" style="fill:#000" transform="rotate(45 659.0 1490.9)">5</text>
<text x="705.3" y="1490.9" text-anchor="middle" dominant-baseline="central" class="t" style="fill:#000" transform="rotate(45 705.3 1490.9)">6</text>
<text x="750.2" y="1490.9" text-anchor="middle" dominant-baseline="central" class="t" style="fill:#000" transform="rotate(45 750.2 1490.9)">7</text>
<text x="796.5" y="1490.9" text-anchor="middle" dominant-baseline="central" class="t" style="fill:#000" transform="rotate(45 796.5 1490.9)">8</text>
<text x="842.9" y="1490.9" text-anchor="middle" dominant-baseline="central" class="t" style="fill:#000" transform="rotate(45 842.9 1490.9)">9</text>
<text x="887.8" y="1490.9" text-anchor="middle" dominant-baseline="central" class="t" style="fill:#000" transform="rotate(45 887.8 1490.9)">10</text>
<text x="934.1" y="1490.9" text-anchor="middle" dominant-baseline="central" class="t" style="fill:#000" transform="rotate(45 934.1 1490.9)">11</text>
<text x="979.0" y="1490.9" text-anchor="middle" dominant-baseline="central" class="t" style="fill:#000" transform="rotate(45 979.0 1490.9)">12</text>
<text x="341.3" y="1277.0" text-anchor="middle" class="t" style="font-size:39.5px" transform="rotate(-90 341.3 1277.0)">Air temp. (°C)</text>
<polyline points="146.4,319 146.6,310.1 148.9,309.1 153.8,307.2 161.7,306.2 169.5,310.1 173.4,307.2 175.4,295.4 178.3,287.6 182.2,287.6 184.2,293.5 187.1,295.4 189.1,297.4 190,318.9 192,336.5 196.9,336.5 204.7,332.6 212.5,328.7 220.4,322.8 226.3,315 229.2,317 232.1,324.8 235.1,331.7 238,325.8 243.9,326.8 249.7,320.9 253.7,317 259.5,319.9 263.4,320.9 269.3,318 272.2,318.9 275.2,333.6 281.1,333.6 285,328.7 288.9,325.8 292.8,330.7 296.7,342.4 299.7,347.3 304.5,339.5 310.4,338.5 314.3,343.4 318.2,340.5 322.2,332.6 326.1,327.7 330,322.8 333.9,311.1 338.8,306.2 341.7,309.1 345.6,309.1 349.6,317 355.4,318.9 361.3,318 367.2,318.9 373.1,322.8 378.9,319.9 384.8,318 388.7,322.8 392.6,340.5 396.5,354.2 398.5,360 404.4,388.7 410.2,408.3 416.1,427.9 415,430 419,445 423,458 427,470 430,480 435,488 440,495 445,502 450,500 455,499 460,495 465,488 470,486 475,478 478,475 482.6,494.4 486.5,488.5 494.4,480.7 500.3,476.8 504.2,474.8 510,465.1 515.9,457.2 521.8,451.4 527.7,443.5 533.5,433.7 537.4,422 543.3,408.3 547.2,396.5 553.1,392.6 555.1,396.5 559,384.8 562.9,373.1 568.8,357.4 574.6,362.3 580.5,359.4 586.4,349.6 588.3,341.7 592.2,347.6 600.1,345.7 607.9,349.6 615.7,343.7 623.6,345.7 631.4,335.9 635.3,327.9 641.2,320.1 647.1,324 654.9,327.9 662.7,324 646.4,330.4 652.8,335.5 659.2,330.4 665.6,324 672,316.3 678.4,320.8 681,330.4 682.2,343.2 687.3,347 691.2,340 693,337.4" fill="none" stroke="#000" stroke-width="7.6" stroke-linejoin="round" stroke-linecap="butt"/>
<polyline points="146.4,279.9 151.9,288.8 157.7,282.9 169.5,275.1 177.3,269.2 182.2,267.2 185.1,275.1 188.1,269.2 191,283.9 196.9,280.9 204.7,275.1 214.5,269.2 224.3,264.3 228.2,263.3 232.1,275.1 235.1,279 238,273.1 243.9,269.2 255.6,261.4 263.4,257.4 267.4,261.4 271.3,259.4 273.2,277 277.1,279 283,275.1 286.9,273.1 290.8,275.1 292.8,281.7 296.7,299.4 298.7,309.1 302.6,307.2 308.5,301.3 314.3,301.3 322.2,293.5 331.9,284.7 339.8,281.7 343.7,286.6 349.6,285.7 353.5,291.5 357.4,303.3 361.3,322.8 365.2,340.5 369.1,360 375,388.7 380.9,408.3 386.8,427.9 387,430 390,445 393,460 396,475 399,490 402,499 406,505 410,512 415,518 420,521 428,524 434,523 440,522 444,521 450,520 455,518 460,516.5 466,516 470,517 480,516 474.8,517.9 482.6,514 486.5,511.1 494.4,511.1 502.2,515 506.1,510.1 512,500.3 517.9,490.5 525.7,480.7 533.5,467 541.4,451.4 549.2,439.6 555.1,436.7 560.9,424 568.8,410.3 572.7,400.5 580.5,390.7 588.3,377 596.2,367.2 605.9,357.4 615.7,345.7 625.5,337.8 625.5,333.8 635.3,325.9 645.1,320.1 654.9,312.2 640,327.2 646.4,318.9 652.8,313.1 659.2,308.6 665.6,304.8 672,303.5 675.2,299.7 681.6,297.7 688,293.3 691.2,286.9 693,285" fill="none" stroke="#f00" stroke-width="7.6" stroke-linejoin="round" stroke-linecap="butt"/>
<polyline points="848.5,349.6 859.7,346.6 871.5,343.7 881.3,341.7 884.2,349.6 887.1,348.6 891.1,340.8 898.9,335.9 906.7,332.9 910.6,327.9 914.5,323 922.4,319.1 926.3,315.2 930.2,312.2 932.2,319.1 940,315.2 949.8,311.3 957.6,308.3 963.5,305.4 967.4,307.4 973.3,302.5 975.2,312.2 983.1,309.3 985,300.5 992.8,295.6 998.7,290.7 1004.6,288.8 1010.5,281.9 1014.4,282.9 1024.2,280.9 1032,279.9 1035.9,282.9 1039.8,277 1047.6,276 1053.5,276 1057.4,282.9 1063.3,287.8 1071.1,288.8 1082.9,291.7 1090.7,289.7 1094.6,292.7 1098.5,304.4 1102.5,304.4 1106.4,302.5 1110.3,306.4 1114.2,314.2 1118.1,318.1 1122,322 1125.9,312.2 1129.8,307.4 1133.7,310.3 1137.7,316.2 1141.6,325.9 1151.4,343.7 1157.2,349.6 1161.1,349.6 1164.1,365.2 1167,368.2 1172.9,366.2 1173.9,358.4 1178.8,363.3 1184.6,371.1 1190.5,378.9 1194.4,386.8 1198.3,388.7 1200.3,380.9 1202.3,390.7 1206.2,375 1208.1,369.1 1212,373.1 1217.9,373.1 1219.9,371.1 1223.8,377 1229.7,382.8 1233.6,388.7 1237.5,396.5 1243.4,402.4 1251.2,404.4 1259,403.4 1264.9,404.4 1268.8,399.5 1270.8,388.7 1278.6,387.7 1284.5,390.7 1290.3,390.7 1294.2,387.7 1306,386.8 1313.8,387.7 1317.7,383.8 1325.6,382.8 1333.4,379.9 1341.2,378 1353,376 1360.8,374 1364.7,368.2 1372.5,365.2 1376.5,361.3 1378.4,355.4 1384.3,353.5 1393.5,348.6" fill="none" stroke="#000" stroke-width="7.6" stroke-linejoin="round" stroke-linecap="butt"/>
<polyline points="848.5,320.1 855.8,316.2 863.7,312.2 871.5,308.3 879.3,305.4 882.3,305.4 885.2,313.2 889.1,312.2 893,308.3 902.8,303.4 910.6,299.5 914.5,292.7 922.4,288.8 928.3,284.8 930.2,282.9 932.2,289.7 940,286.8 949.8,281.9 957.6,278 963.5,274.1 967.4,278 973.3,275.1 975.2,285.8 983.1,284.8 985,277 988.9,273.1 992.8,275.1 996.8,280.9 1000.7,282.9 1004.6,281.9 1010.5,285.8 1014.4,288.8 1024.2,285.8 1032,284.8 1035.9,290.7 1039.8,285.8 1043.7,280.9 1051.6,279.9 1055.5,284.8 1057.4,289.7 1063.3,288.8 1073.1,284.8 1082.9,286.8 1090.7,289.7 1094.6,296.6 1098.5,310.3 1102.5,316.2 1106.4,314.2 1110.3,322 1114.2,333.8 1122,345.7 1127.9,355.4 1133.7,369.1 1139.6,382.8 1145.5,394.6 1151.4,402.4 1157.2,408.3 1163.1,412.2 1167,424 1172.9,422 1176.8,410.3 1180.7,402.4 1184.6,404.4 1188.5,412.2 1196.4,416.1 1200.3,416.1 1204.2,412.2 1206.2,404.4 1210.1,405.4 1216,402.4 1217.9,398.5 1225.7,399.5 1231.6,402.4 1237.5,408.3 1247.3,410.3 1255.1,409.3 1262.9,408.3 1270.8,404.4 1270.8,394.6 1274.7,391.7 1282.5,388.7 1290.3,384.8 1298.2,380.9 1307.9,377 1317.7,371.1 1327.5,365.2 1333.4,359.4 1341.2,355.4 1349.1,351.5 1356.9,347.6 1366.7,342.7 1372.5,337.8 1378.4,332 1376.5,331.8 1384.3,325.9 1393.5,321.1" fill="none" stroke="#f00" stroke-width="7.6" stroke-linejoin="round" stroke-linecap="butt"/>
<polyline points="146.5,862.6 149.9,858.7 153.8,831.3 157.7,827.4 161.7,835.2 165.6,854.8 167.5,872.4 171.4,860.7 174.4,862.6 177.3,872.4 180.3,886.1 183.2,899.8 187.1,886.1 191,880.3 194.9,886.1 197.9,874.4 200.8,878.3 204.7,876.3 207.7,864.6 210.6,872.4 212.5,888.1 214.5,905.7 218.4,907.7 222.3,892 224.3,897.9 226.3,921.4 228.2,903.7 230.2,884.2 233.1,890 235.1,909.6 238,909.6 240,905.7 243.9,894 247.8,901.8 251.7,903.7 254.6,888.1 257.6,874.4 261.5,862.6 263.4,852.8 265.4,845 269.3,837.2 273.2,833.3 277.1,837.2 281.1,845 284,850.9 286.9,848.9 290.8,847 294.8,848.9 298.7,845 302.6,835.2 304.5,819.6 308.5,795.9 312.4,799.8 314.3,784.2 316.3,772.4 320.2,762.6 324.1,756.8 328,748.9 331.9,735.2 335.9,741.1 338.8,737.2 341.7,725.4 343.7,717.6 349.6,713.7 351.5,705.9 353.5,694.1 355.4,682.4 359.3,674.5 363.3,664.8 367.2,653 373.1,647.1 377,643.2 382.8,637.4 386.8,629.5 390.7,623.7 394.6,618.8 400.5,616.8 459.1,616.8 465,622.7 470.9,623.7 474.8,625.6 478.7,622.7 484.6,627.6 487.5,630.5 490.5,625.6 494.4,629.5 498.3,633.4 504.2,635.4 510,637.4 515.9,635.4 519.8,637.4 525.7,643.2 529.6,647.1 533.5,655 537.4,658.9 541.4,656.9 545.3,662.8 551.1,664.8 555.1,668.7 558,670.6 560.9,682.4 564.8,694.1 570.7,698 574.6,713.7 578.5,725.4 582.5,721.5 586.4,727.4 590.3,737.2 596.2,745 600.1,752.8 604,762.6 607.9,776.3 613.8,778.3 617.7,776.3 621.6,786.1 625.5,790 629.4,795.9 629.4,811.7 635.3,805.9 641.2,803.9 647.1,803.9 651,811.7 654.9,823.5 658.8,839.1 664.7,850.9 668.6,858.7 672.5,870.5 674.5,854.8 676.4,847 678.4,835.2 682.3,831.3 684.2,850.9 686.2,866.5 690.1,864.6 693,862.6" fill="none" stroke="#000" stroke-width="7.6" stroke-linejoin="round" stroke-linecap="butt"/>
<polyline points="146.5,897.9 149.9,895.9 153.8,878.3 157.7,874.4 161.7,882.2 165.6,899.8 169.5,907.7 173.4,903.7 177.3,901.8 181.2,921.4 183.2,925.3 187.1,911.6 191,915.5 193,927.2 196.9,927.2 200.8,919.4 204.7,911.6 208.6,915.5 212.5,937 214.5,942.9 218.4,940.9 222.3,933.1 226.3,940.9 228.2,948.8 232.1,917.4 236,925.3 240,933.1 243.9,931.1 249.7,929.2 253.7,925.3 255.6,909.6 259.5,897.9 263.4,878.3 267.4,866.5 271.3,856.8 275.2,843.1 279.1,839.1 283,845 286.9,837.2 290.8,831.3 296.7,819.6 300.6,784.2 304.5,768.5 308.5,764.6 312.4,745 316.3,725.4 320.2,711.7 324.1,707.8 328,692.2 331.9,686.3 335.9,686.3 339.8,672.6 343.7,662.8 347.6,659.9 351.5,641.3 353.5,631.5 357.4,627.6 361.3,623.7 365.2,620.7 371.1,619.7 380.9,617.8 388.7,616.8 420,616.8 459.1,616.8 476.8,617.8 486.5,619.7 494.4,623.7 502.2,627.6 508.1,631.5 512,637.4 517.9,645.2 523.7,655 529.6,664.8 532.5,676.5 535.5,682.4 539.4,684.3 543.3,692.2 547.2,703.9 551.1,715.7 555.1,721.5 557,717.6 559,723.5 560.9,733.3 562.9,745 566.8,756.8 570.7,760.7 574.6,772.4 578.5,784.2 582.5,790 586.4,782.2 590.3,790 594.2,799.8 596.2,809.8 600.1,823.5 604,837.2 607.9,847 611.8,856.8 615.7,850.9 619.6,839.1 623.6,848.9 627.5,858.7 631.4,868.5 635.3,862.6 639.2,868.5 643.1,862.6 647.1,856.8 652.9,860.7 656.8,874.4 660.8,890 664.7,905.7 668.6,911.6 670.5,917.4 674.5,907.7 678.4,899.8 682.3,894 686.2,907.7 688.2,915.5 692.1,909.6 693,903.7" fill="none" stroke="#f00" stroke-width="7.6" stroke-linejoin="round" stroke-linecap="butt"/>
<polyline points="848.5,805.7 853.9,797.9 859.7,793 863.7,793 869.5,797.9 875.4,803.7 877.4,811.7 881.3,819.6 884.2,829.4 883.9,846.3 891.5,853.9 896.9,848.5 900.2,842 905.6,836.5 910,833.3 913.2,836.5 917.6,843 921.9,851.7 926.3,857.2 930.6,859.3 931.7,849.6 935,855 938.2,861.5 941.5,857.2 945.8,853.9 950.2,856.1 954.5,860.4 957.8,857.2 961,851.7 963.2,840.9 964.3,833.3 950,853.5 955.1,854.5 960.2,851.4 963.3,833 965.3,829.9 970.5,832 973.5,810.5 975.6,808.4 978.6,817.6 983.8,833 988.9,830.9 994,828.9 997.1,820.7 1000.1,818.7 1007.3,815.6 1013.4,802.3 1019.6,790 1024.7,777.7 1029.8,769.6 1034.9,764.5 1040,759.3 1045.1,756.3 1048.2,751.2 1052.3,746 1056.4,740.9 1060.5,730.7 1064.6,723.5 1070,713.3 1069.2,709.8 1075.1,702 1080.9,694.1 1086.8,688.3 1092.7,680.4 1098.5,670.6 1104.4,666.7 1110.3,658.9 1114.2,653 1118.1,651.1 1122,648.1 1127.9,646.2 1133.7,643.2 1141.6,639.3 1151.4,637.4 1161.1,636.4 1170.9,637.4 1180.7,638.3 1190.5,640.3 1200.3,644.2 1206.2,644.2 1214,645.2 1219.9,645.2 1227.7,646.2 1235.5,649.1 1243.4,650.1 1251.2,653 1259,655 1266.8,658.9 1272.7,662.8 1278.6,668.7 1286.4,674.5 1292.3,680.4 1298.2,688.3 1304,696.1 1309.9,705.9 1315.8,713.7 1321.6,719.6 1327.5,727.4 1331.4,737.2 1337.3,743.1 1343.2,747 1349.1,748.9 1354.9,756.8 1358.8,764.6 1362.8,774.4 1368.6,786.1 1372.5,795.9 1376.5,793.9 1382.3,791 1386.2,794.9 1392.1,800.8 1393.5,801.8" fill="none" stroke="#000" stroke-width="7.6" stroke-linejoin="round" stroke-linecap="butt"/>
<polyline points="848.5,899.6 852.3,905 855.6,899.6 858.9,892 863.2,889.2 867.6,893 871.9,899.6 876.3,900.7 880.6,899.6 883.9,906.1 886,913.7 890.4,913.7 893.7,922.4 898,924.6 902.3,922.4 906.7,917 911,915.9 915.4,921.3 919.7,927.8 924.1,931.1 928.4,933.3 930.6,934.3 931.7,923.5 936,919.1 938.2,924.6 942.6,925.7 948,925.7 952.3,928.9 955.6,930 958.9,925.7 962.1,917 964.3,906.1 965.4,895.2 969.7,889.8 973,884.3 974.1,873.5 975.2,864.8 972.8,863.9 982.4,865.9 988.8,859.5 993.2,853.1 997.7,854.3 999,846.7 1000.9,838.4 1004.8,824.3 1008.6,811.5 1011.4,790 1015.5,777.7 1019.6,763.4 1023.7,748.1 1027.7,735.8 1031.8,726.6 1037,718.4 1042.1,710.2 1047.2,700 1047.6,696.1 1051.6,688.3 1055.5,676.5 1059.4,666.7 1063.3,658.9 1069.2,649.1 1075.1,643.2 1082.9,639.3 1088.8,635.4 1096.6,631.5 1102.5,629.5 1110.3,627.6 1122,626.6 1129.8,625.6 1141.6,626.6 1161.1,627.6 1176.8,628.6 1188.5,630.5 1196.4,631.5 1204.2,635.4 1210.1,641.3 1214,649.1 1219.9,658.9 1225.7,670.6 1231.6,680.4 1235.5,692.2 1239.4,702 1245.3,709.8 1249.2,721.5 1253.1,731.3 1259,737.2 1262.9,747 1268.8,756.8 1274.7,764.6 1278.6,776.3 1282.5,786.1 1288.4,793.9 1292.3,799.8 1298.2,811.7 1304,821.5 1307.9,833.3 1311.9,843.1 1317.7,847 1321.6,843.1 1325.6,845 1329.5,850.9 1333.4,858.7 1339.3,864.6 1345.1,866.5 1351,862.6 1356.9,862.6 1360.8,870.5 1364.7,882.2 1368.6,892 1372.5,901.8 1376.5,901.8 1380.4,899.8 1384.3,897.9 1388.2,901.8 1393.1,905.7 1393.5,905.7" fill="none" stroke="#f00" stroke-width="7.6" stroke-linejoin="round" stroke-linecap="butt"/>
<polyline points="457.1,1372.7 460.1,1360.4 464.7,1342 467.7,1346.6 470.8,1363.5 473.9,1392.6 476.9,1400.3 480,1401.8 483.1,1374.2 484.6,1371.1 487.7,1398.7 490.7,1423.3 493.8,1420.2 495.3,1391.1 498.4,1383.4 501.5,1406.4 504.6,1401.8 507.6,1377.3 509.2,1391.1 510.7,1406.4 513.8,1380.3 516.8,1391.1 519.9,1414.1 521.4,1429.4 524.5,1440.2 527.6,1438.6 530.6,1417.1 533.7,1407.9 536.8,1452.4 538.3,1454 541.4,1395.7 544.4,1421.7 547.5,1432.5 550.6,1414.1 553.6,1409.5 556.7,1417.1 559.8,1411 562.8,1423.3 565.9,1403.3 569,1383.4 572,1368.1 575.1,1360.4 579.7,1349.7 584.3,1346.6 587.4,1351.2 590.5,1365 593.5,1368.1 595.1,1346.6 599.7,1346.6 604.3,1355.8 607.3,1337.4 610.4,1315.9 613.5,1291.4 617,1282.2 619.5,1307.2 623.4,1305.2 625.3,1265.9 629.2,1258.1 633.2,1256.1 637.1,1254.2 639,1242.4 641,1232.6 644.9,1228.7 646.9,1252.2 648.8,1250.2 650.8,1228.7 652.7,1215 654.7,1211.1 658.6,1215 660.6,1207.2 662.5,1195.4 664.5,1183.7 666.4,1168 670.3,1164.1 674.3,1156.3 676.2,1148.5 680.1,1146.5 684.1,1142.6 688,1138.7 691.9,1138.7 695.8,1132.8 697.8,1125 701.7,1109.3 705.6,1107.4 711.5,1109.3 717.3,1109.3 723.2,1107.4 731,1107.4 738.8,1105.4 746.7,1104.4 754.5,1102.5 762.3,1103.4 770.1,1109.3 778,1109.3 781.9,1113.2 789.7,1117.1 795.6,1123 801.5,1125 809.3,1126.9 815.2,1130.8 821,1138.7 826.9,1144.5 832.8,1152.4 836.7,1160.2 840.6,1172 844.5,1170 848.4,1170 852.4,1179.8 856.3,1185.7 860.2,1175.9 864.1,1179.8 868,1181.7 870,1203.3 871.9,1226.8 875.8,1238.5 879.8,1236.5 883.7,1250.2 887.6,1260 891.5,1258.1 895.4,1262 899.3,1269.8 901.3,1281.7 905.2,1293.5 909.1,1317 913,1328.7 916.9,1344.4 920.9,1336.5 924.8,1324.8 928.7,1313.1 932.6,1328.7 936.5,1336.5 940.4,1367.9 942.4,1365.9 946.3,1334.6 948.3,1332.6 950.2,1356.1 952.2,1334.6 954.1,1322.8 958.1,1328.7 962,1348.3 965.9,1367.9 969.8,1387.4 973.7,1407 975.7,1391.4 979.6,1424.6 981.5,1407 985.5,1371.8 989.4,1391.4 993.3,1395.3 995.2,1412.9 999.2,1387.4 1001.1,1375.7 1002.9,1375.7" fill="none" stroke="#000" stroke-width="7.6" stroke-linejoin="round" stroke-linecap="butt"/>
<polyline points="457.1,1334.3 460.1,1325.1 463.1,1315.9 467,1312.8 469.3,1319 472.3,1329.7 475.4,1345 478.5,1357.3 481.5,1352.7 484.6,1345 486.9,1343.5 489.2,1360.4 492.3,1380.3 495.3,1363.5 498.4,1355.8 501.5,1375.7 504.6,1357.3 507.6,1354.3 510.7,1357.3 513.8,1352.7 518.4,1354.3 521.4,1360.4 524.5,1383.4 527.6,1383.4 530.6,1372.7 533.7,1363.5 536.8,1392.6 538.3,1395.7 539.8,1368.1 542.1,1354.3 544.4,1363.5 547.5,1377.3 550.6,1384.9 553.6,1371.1 558.2,1372.7 562.8,1375.7 565.9,1357.3 567.4,1340.4 570.5,1329.7 572,1320.5 576.7,1317.4 579.7,1322 584.3,1306.7 588.9,1317.4 592,1328.2 595.1,1319 599.7,1311.3 604.3,1315.9 607.3,1296 610.4,1276 613.5,1260.7 617.5,1258.1 621.4,1250.2 623.4,1238.5 627.3,1226.8 629.2,1222.8 633.2,1222.8 637.1,1215 641,1207.2 644.9,1215 646.9,1222.8 648.8,1211.1 650.8,1199.4 652.7,1191.5 656.6,1187.6 660.6,1195.4 662.5,1175.9 664.5,1160.2 666.4,1152.4 670.3,1148.5 674.3,1134.8 676.2,1126.9 682.1,1123 686,1117.1 691.9,1111.3 695.8,1105.4 699.7,1099.5 703.6,1095.6 707.5,1097.6 711.5,1093.7 715.4,1096.6 719.3,1095.6 723.2,1093.7 727.1,1094.6 731,1095.6 738.8,1094.6 746.7,1096.6 754.5,1095.6 762.3,1094.6 770.1,1097.6 778,1093.7 781.9,1097.6 785.8,1101.5 793.6,1105.4 799.5,1109.3 805.4,1108.3 809.3,1113.2 815.2,1119.1 821,1125 826.9,1132.8 832.8,1140.6 838.7,1146.5 842.6,1154.3 848.4,1158.3 852.4,1164.1 856.3,1173.9 860.2,1187.6 864.1,1193.5 866.1,1183.7 870,1189.6 871.9,1199.4 875.8,1211.1 879.8,1222.8 883.7,1228.7 885.6,1240.5 889.5,1250.2 893.5,1246.3 897.4,1244.4 901.3,1254.2 905.2,1260 909.1,1267.9 907.2,1273.9 911.1,1285.7 915,1297.4 918.9,1309.1 922.8,1313.1 926.7,1299.4 930.6,1295.4 934.6,1303.3 938.5,1309.1 942.4,1322.8 944.3,1309.1 948.3,1317 952.2,1315 956.1,1301.3 958.1,1299.4 962,1313.1 965.9,1328.7 969.8,1340.5 973.7,1352.2 977.6,1356.1 979.6,1367.9 983.5,1344.4 987.4,1342.4 991.3,1338.5 995.2,1358.1 997.2,1367.9 1001.1,1352.2 1002.9,1348.3" fill="none" stroke="#00f" stroke-width="7.6" stroke-linejoin="round" stroke-linecap="butt"/>
<text x="625.1" y="184.5" class="pl">a</text>
<text x="1325.8" y="184.8" class="pl">b</text>
<text x="624.7" y="654.4" class="pl">c</text>
<text x="1325" y="654.4" class="pl">d</text>
<text x="934.3" y="1123.9" class="pl">e</text>
<text x="729.3" y="1557.8" text-anchor="middle" class="pl" style="font-size:39px">Month</text>
<rect x="1067.9" y="1235.9" width="108" height="8" fill="#000"/>
<rect x="1067.9" y="1308.8" width="108" height="8" fill="#0000ff"/>
<text x="1183" y="1253.3" class="lg">Obs.</text>
<text x="1183" y="1324.8" class="lg">ERA5</text>
</svg></body></html>
